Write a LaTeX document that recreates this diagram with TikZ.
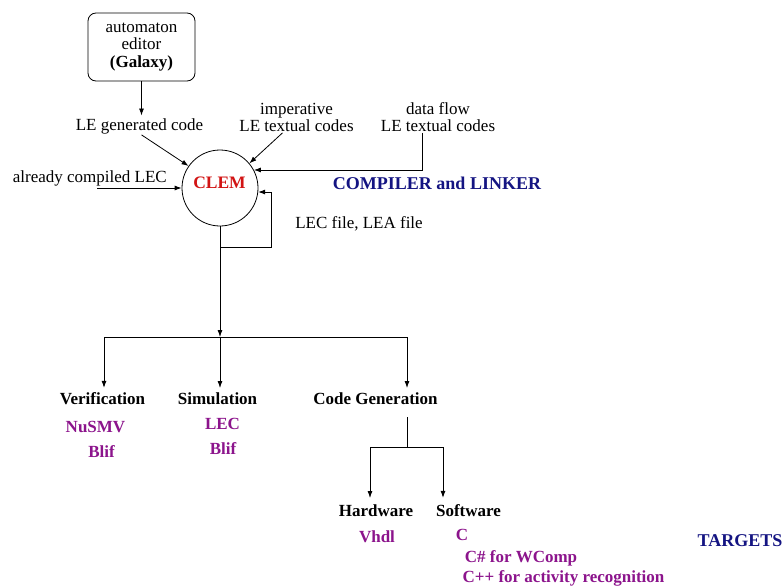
\documentclass[tikz,border=0pt]{standalone}
\usepackage{fontspec}
\setmainfont{Liberation Serif}
\usetikzlibrary{arrows.meta}
\definecolor{clemred}{RGB}{210,20,20}
\definecolor{tgtpurple}{RGB}{140,20,140}
\definecolor{navytitle}{RGB}{20,20,130}
\begin{document}
\begin{tikzpicture}[x=1pt,y=-1pt,
  every node/.style={font=\fontsize{17}{17.5}\selectfont, inner sep=1pt},
  txt/.style={anchor=base},
  hd/.style={anchor=base, font=\fontsize{17}{17.5}\selectfont\bfseries},
  tgt/.style={anchor=base, font=\fontsize{17}{17.5}\selectfont\bfseries, text=tgtpurple},
  ttl/.style={anchor=base, font=\fontsize{18}{18}\selectfont\bfseries, text=navytitle},
  ln/.style={line width=0.8pt},
  arr/.style={ln, -{Latex[length=7pt,width=5pt]}},
]
\useasboundingbox (0,0) rectangle (783,586);
\fill[white] (0,0) rectangle (783,586);

% editor and sources (multi-line nodes sit on the baseline of their last line)
\node[draw, ln, rounded corners=8pt, minimum width=107pt, minimum height=68pt,
      align=center] (galaxy) at (141.5,47) {automaton\\editor\\\textbf{(Galaxy)}};
\node[txt] (legen) at (139.5,130) {LE generated code};
\node[txt, align=center] (imp) at (296.5,131.5) {imperative\\LE textual codes};
\node[txt, align=center] (df) at (438,131.5) {data flow\\LE textual codes};
\node[anchor=base east] (lec) at (168,182) {already compiled LEC};

% compiler
\node[draw, ln, circle, minimum size=76pt, inner sep=0pt] (clem) at (220,188) {};
\node[anchor=base, font=\fontsize{17.5}{18}\selectfont\bfseries, text=clemred]
      (clemtxt) at (219.5,188) {CLEM};
\node[ttl] (cl) at (437,189) {COMPILER and LINKER};
\node[txt] (files) at (359,228) {LEC file, LEA file};

\draw[arr, shorten >=1.5pt] (galaxy.south) -- (galaxy.south |- legen.north);
\draw[arr] ([xshift=2pt]legen.south) -- (clem.145);
\draw[arr] ([xshift=-14pt]imp.south) -- (clem.40);
\draw[arr] ([xshift=-16pt]df.south) |- (clem.28);
\draw[arr] (lec.south east |- clem.180) ++(-71pt,0) coordinate (lecstart) -- (clem.180);

% feedback loop
\coordinate (loopc) at (271,247);
\draw[arr] (clem.south) |- (loopc) |- (clem.-6);

% branches
\coordinate (junc) at (220,337);
\coordinate (bL) at (104,337);
\coordinate (bR) at (407,337);
\draw[arr] (clem.south) -- (junc);
\draw[ln] (bL) -- (bR);

\node[hd] (verif) at (102.5,404) {Verification};
\node[hd] (simu) at (217.5,404) {Simulation};
\node[hd] (codegen) at (375.5,404) {Code Generation};

\draw[arr, shorten >=3pt] (bL) -- (bL |- verif.north);
\draw[arr, shorten >=3pt] (junc) -- (junc |- simu.north);
\draw[arr, shorten >=3pt] (bR) -- (bR |- codegen.north);

\node[tgt] (nusmv) at (95.5,432) {NuSMV};
\node[tgt] (blifv) at (101.5,457) {Blif};
\node[tgt] (lecs) at (222.5,429) {LEC};
\node[tgt] (blifs) at (223,454) {Blif};

% code generation split
\coordinate (cgtop) at (407,417);
\coordinate (cgsplit) at (407,447);
\coordinate (hL) at (370,447);
\coordinate (hR) at (443,447);
\draw[ln] (cgtop) -- (cgsplit);
\draw[ln] (hL) -- (hR);

\node[hd] (hw) at (376,516) {Hardware};
\node[hd] (sw) at (468.5,516) {Software};
\draw[arr, shorten >=5pt] (hL) -- (hL |- hw.north);
\draw[arr, shorten >=5pt] (hR) -- (hR |- sw.north);

\node[tgt] (vhdl) at (377,542) {Vhdl};
\node[tgt] (clang) at (462,540) {C};
\node[tgt] (csharp) at (521,562) {C\# for WComp};
\node[tgt] (cpp) at (563.5,582) {C++ for activity recognition};

\node[ttl] (targets) at (740,546) {TARGETS};
\end{tikzpicture}
\end{document}
